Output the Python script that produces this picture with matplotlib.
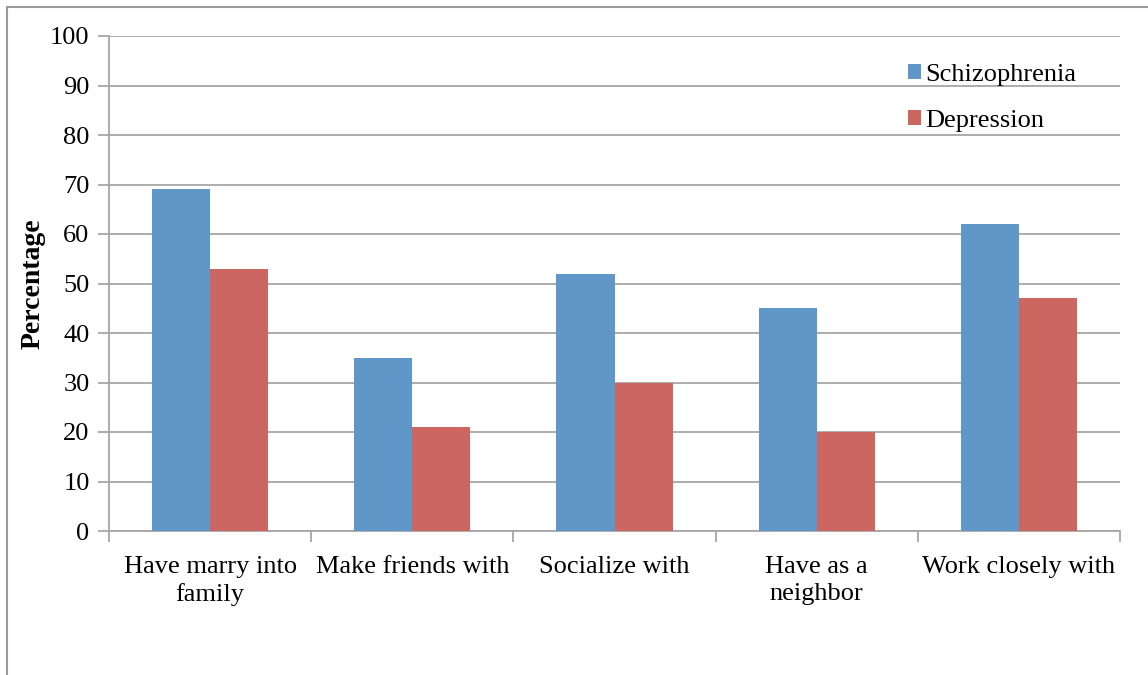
import numpy as np
import matplotlib.pyplot as plt
from matplotlib.patches import Rectangle

categories = ["Have marry into\nfamily", "Make friends with", "Socialize with",
              "Have as a\nneighbor", "Work closely with"]
schizophrenia = [69, 35, 52, 45, 62]
depression = [53, 21, 30, 20, 47]
series_names = ["Schizophrenia", "Depression"]

blue = "#6097C9"
red = "#CC6660"
grid_gray = "#A6A6A6"

plt.rcParams["font.family"] = ["Liberation Serif", "DejaVu Serif"]

fig = plt.figure(figsize=(11.48, 6.75), dpi=100)
ax = fig.add_axes([109 / 1148, 1 - 531 / 675, (1120 - 109) / 1148, (531 - 36) / 675])

# outer chart border (cropped on right and bottom)
fig.patches.append(Rectangle((7 / 1148, -0.1), 1.2, 1 - 7 / 675 + 0.1,
                             transform=fig.transFigure, fill=False,
                             edgecolor="#9A9A9A", linewidth=1.5))

x = np.arange(len(categories))
w = 0.287
ax.bar(x - w / 2, schizophrenia, w, color=blue, label=series_names[0], zorder=3)
ax.bar(x + w / 2, depression, w, color=red, label=series_names[1], zorder=3)

ax.set_xlim(-0.5, len(categories) - 0.5)
ax.set_ylim(0, 100)
ax.set_yticks(np.arange(0, 101, 10))
ax.yaxis.grid(True, color=grid_gray, linewidth=1.3, zorder=0)
ax.set_axisbelow(True)

# category ticks sit between the groups
ax.set_xticks(np.arange(-0.5, len(categories), 1.0))
ax.set_xticklabels([])
ax.set_xticks(x, minor=True)
ax.set_xticklabels(categories, minor=True, fontsize=19, linespacing=1.3)
ax.tick_params(axis="x", which="minor", length=0, pad=18)
ax.tick_params(axis="x", which="major", length=8, color=grid_gray, width=1.3)
ax.tick_params(axis="y", length=8, color=grid_gray, width=1.3, labelsize=19, pad=6)

for side in ["top", "right"]:
    ax.spines[side].set_visible(False)
for side in ["left", "bottom"]:
    ax.spines[side].set_color(grid_gray)
    ax.spines[side].set_linewidth(1.3)

ax.set_ylabel("Percentage", fontsize=20, fontweight="bold", labelpad=3)

ax.legend(loc="upper left", bbox_to_anchor=(0.78, 0.965), frameon=False,
          fontsize=19, handlelength=0.5, handleheight=0.5, handletextpad=0.15,
          labelspacing=0.9, borderaxespad=0)

fig.savefig("out.png", dpi=100)
